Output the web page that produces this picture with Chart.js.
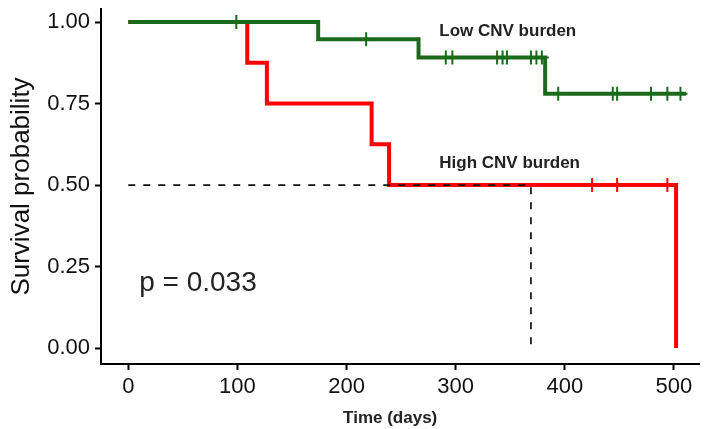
<!DOCTYPE html>
<html>
<head>
<meta charset="utf-8">
<script src="https://cdn.jsdelivr.net/npm/chart.js@4.4.1/dist/chart.umd.min.js"></script>
<style>
  html, body { margin: 0; padding: 0; background: #fff; }
  #wrap { width: 708px; height: 429px; }
</style>
</head>
<body>
<div id="wrap"><canvas id="kmChart" width="708" height="429"></canvas></div>
<script>
// survival curves
const lowTimes = [0, 174, 266, 382, 511];
const lowSurv = [1, 0.947, 0.891, 0.780, 0.780];
const lowCensorTimes = [99, 218, 291, 297, 338, 343, 347, 369, 374, 379, 394, 444, 448, 479, 494, 506];
const lowCensorSurv = [1, 0.947, 0.891, 0.891, 0.891, 0.891, 0.891, 0.891, 0.891, 0.891, 0.780, 0.780, 0.780, 0.780, 0.780, 0.780];

const highTimes = [0, 109, 127, 223, 239, 502];
const highSurv = [1, 0.875, 0.75, 0.625, 0.5, 0];
const highCensorTimes = [425, 448, 494];
const highCensorSurv = [0.5, 0.5, 0.5];

// median survival guide
const medianTimes = [0, 369, 369];
const medianSurv = [0.5, 0.5, 0];

const xTicks = [0, 100, 200, 300, 400, 500];
const yTicks = [0, 0.25, 0.5, 0.75, 1];

const groupLabels = ['Low CNV burden', 'High CNV burden'];
const pValueText = 'p = 0.033';

const FONT = "'Liberation Sans', Arial, Helvetica, sans-serif";
const GREEN = '#1b6a1b';
const RED = '#ff0000';

function toPoints(xs, ys) {
  return xs.map((x, i) => ({ x: x, y: ys[i] }));
}

// group labels, p value and x title
const textPlugin = {
  id: 'kmText',
  afterDatasetsDraw(chart) {
    const ctx = chart.ctx;
    const x = chart.scales.x;
    const y = chart.scales.y;
    ctx.save();
    ctx.fillStyle = '#222';
    ctx.textBaseline = 'middle';
    ctx.textAlign = 'left';
    ctx.font = 'bold 17px ' + FONT;
    ctx.fillText(groupLabels[0], x.getPixelForValue(285), y.getPixelForValue(0.972));
    ctx.fillText(groupLabels[1], x.getPixelForValue(285), y.getPixelForValue(0.567));
    ctx.font = '28px ' + FONT;
    ctx.fillText(pValueText, x.getPixelForValue(10), y.getPixelForValue(0.198));
    ctx.textAlign = 'center';
    ctx.font = 'bold 17px ' + FONT;
    ctx.fillText('Time (days)', x.getPixelForValue(240), 418);
    ctx.restore();
  }
};

const ctx = document.getElementById('kmChart');

new Chart(ctx, {
  type: 'line',
  data: {
    datasets: [
      {
        label: 'median',
        data: toPoints(medianTimes, medianSurv),
        borderColor: '#111',
        borderWidth: 1.7,
        borderDash: [7, 8],
        pointRadius: 0,
        fill: false
      },
      {
        label: 'Low censor',
        data: toPoints(lowCensorTimes, lowCensorSurv),
        showLine: false,
        pointStyle: 'cross',
        pointRadius: 7,
        pointBorderWidth: 2,
        borderColor: GREEN,
        backgroundColor: GREEN
      },
      {
        label: 'High censor',
        data: toPoints(highCensorTimes, highCensorSurv),
        showLine: false,
        pointStyle: 'cross',
        pointRadius: 7,
        pointBorderWidth: 2,
        borderColor: RED,
        backgroundColor: RED
      },
      {
        label: groupLabels[0],
        data: toPoints(lowTimes, lowSurv),
        stepped: 'before',
        borderColor: GREEN,
        borderWidth: 4,
        borderJoinStyle: 'miter',
        pointRadius: 0,
        fill: false
      },
      {
        label: groupLabels[1],
        data: toPoints(highTimes, highSurv),
        stepped: 'before',
        borderColor: RED,
        borderWidth: 4,
        borderJoinStyle: 'miter',
        pointRadius: 0,
        fill: false
      }
    ]
  },
  options: {
    responsive: false,
    animation: false,
    layout: { padding: { top: 1, right: 5, left: 0, bottom: 0 } },
    plugins: {
      legend: { display: false },
      tooltip: { enabled: false }
    },
    scales: {
      x: {
        type: 'linear',
        min: -25,
        max: 523,
        afterBuildTicks: s => { s.ticks = xTicks.map(v => ({ value: v })); },
        afterFit: s => { s.height = 65; s.paddingLeft = 0; s.paddingRight = 0; },
        border: { display: true, color: '#000', width: 2 },
        grid: { drawOnChartArea: false, drawTicks: true, tickLength: 6, tickWidth: 2, tickColor: '#000' },
        ticks: {
          color: '#111',
          padding: 4,
          maxRotation: 0,
          font: { family: FONT, size: 22 },
          callback: v => String(v)
        }
      },
      y: {
        type: 'linear',
        min: -0.049,
        max: 1.04,
        afterBuildTicks: s => { s.ticks = yTicks.map(v => ({ value: v })); },
        afterFit: s => { s.width = 101; s.paddingTop = 0; s.paddingBottom = 0; },
        border: { display: true, color: '#000', width: 2 },
        grid: { drawOnChartArea: false, drawTicks: true, tickLength: 6, tickWidth: 2, tickColor: '#000' },
        title: {
          display: true,
          text: 'Survival probability',
          color: '#111',
          font: { family: FONT, size: 26 },
          padding: { top: 6, bottom: 0 }
        },
        ticks: {
          color: '#111',
          padding: 5,
          font: { family: FONT, size: 22 },
          callback: v => Number(v).toFixed(2)
        }
      }
    }
  },
  plugins: [textPlugin]
});
</script>
</body>
</html>
